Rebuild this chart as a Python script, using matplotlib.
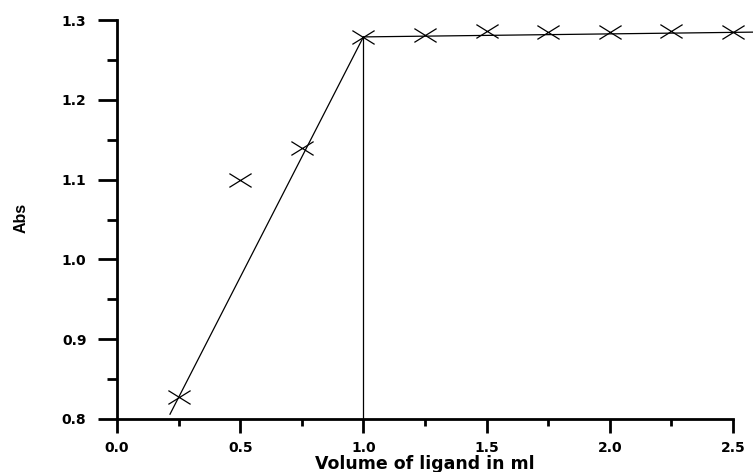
import matplotlib
matplotlib.use("Agg")
import matplotlib.pyplot as plt
from matplotlib.path import Path
from matplotlib.ticker import MultipleLocator

# measured points
vol = [0.25, 0.50, 0.75, 1.00, 1.25, 1.50, 1.75, 2.00, 2.25, 2.50]
absorb = [0.828, 1.100, 1.140, 1.279, 1.282, 1.287, 1.285, 1.285, 1.286, 1.285]

# the two straight lines drawn through the points, plus the drop line at the break
rise_x = [0.215, 1.0]
rise_y = [0.806, 1.279]
flat_x = [1.0, 2.585]
flat_y = [1.279, 1.285]
drop_x = [1.0, 1.0]
drop_y = [0.8, 1.279]

xticks = [0.0, 0.5, 1.0, 1.5, 2.0, 2.5]
yticks = [0.8, 0.9, 1.0, 1.1, 1.2, 1.3]

# flattened cross, wider than tall like the original
cross = Path([(-1, -0.62), (1, 0.62), (-1, 0.62), (1, -0.62)],
             [Path.MOVETO, Path.LINETO, Path.MOVETO, Path.LINETO])

plt.rcParams['font.family'] = ['DejaVu Sans']

fig = plt.figure(figsize=(7.53, 4.72), dpi=100)
ax = fig.add_axes([0.1554, 0.1123, 0.818, 0.845])

ax.plot(rise_x, rise_y, color='black', lw=0.9, clip_on=False)
ax.plot(flat_x, flat_y, color='black', lw=0.9, clip_on=False)
ax.plot(drop_x, drop_y, color='black', lw=0.9, clip_on=False)
ax.plot(vol, absorb, linestyle='none', marker=cross, markersize=16,
        markeredgewidth=0.9, color='black', clip_on=False)

ax.set_xlim(0.0, 2.5)
ax.set_ylim(0.8, 1.3)
ax.set_xticks(xticks)
ax.set_yticks(yticks)
ax.set_xticklabels([f"{t:.1f}" for t in xticks])
ax.set_yticklabels([f"{t:.1f}" for t in yticks])
ax.xaxis.set_minor_locator(MultipleLocator(0.25))
ax.yaxis.set_minor_locator(MultipleLocator(0.05))

for s in ['top', 'right']:
    ax.spines[s].set_visible(False)
for s in ['left', 'bottom']:
    ax.spines[s].set_linewidth(2)

ax.tick_params(axis='y', which='major', length=14, width=2, direction='out', pad=8)
ax.tick_params(axis='y', which='minor', length=7.5, width=2, direction='out')
ax.tick_params(axis='x', which='major', length=10, width=2, direction='out', pad=6)
ax.tick_params(axis='x', which='minor', length=5, width=2, direction='out')
for lab in ax.get_xticklabels() + ax.get_yticklabels():
    lab.set_fontsize(10)
    lab.set_fontweight('bold')

ax.set_xlabel('Volume of ligand in ml', fontsize=12.5, fontweight='bold')
ax.xaxis.label.set_va('center')
ax.xaxis.set_label_coords(0.5, -0.113)

fig.text(0.028, 0.538, 'Abs', rotation=90, fontsize=11.5, fontweight='bold',
         family=['Liberation Sans', 'DejaVu Sans'],
         ha='center', va='center')

fig.savefig('out.png', dpi=100)
